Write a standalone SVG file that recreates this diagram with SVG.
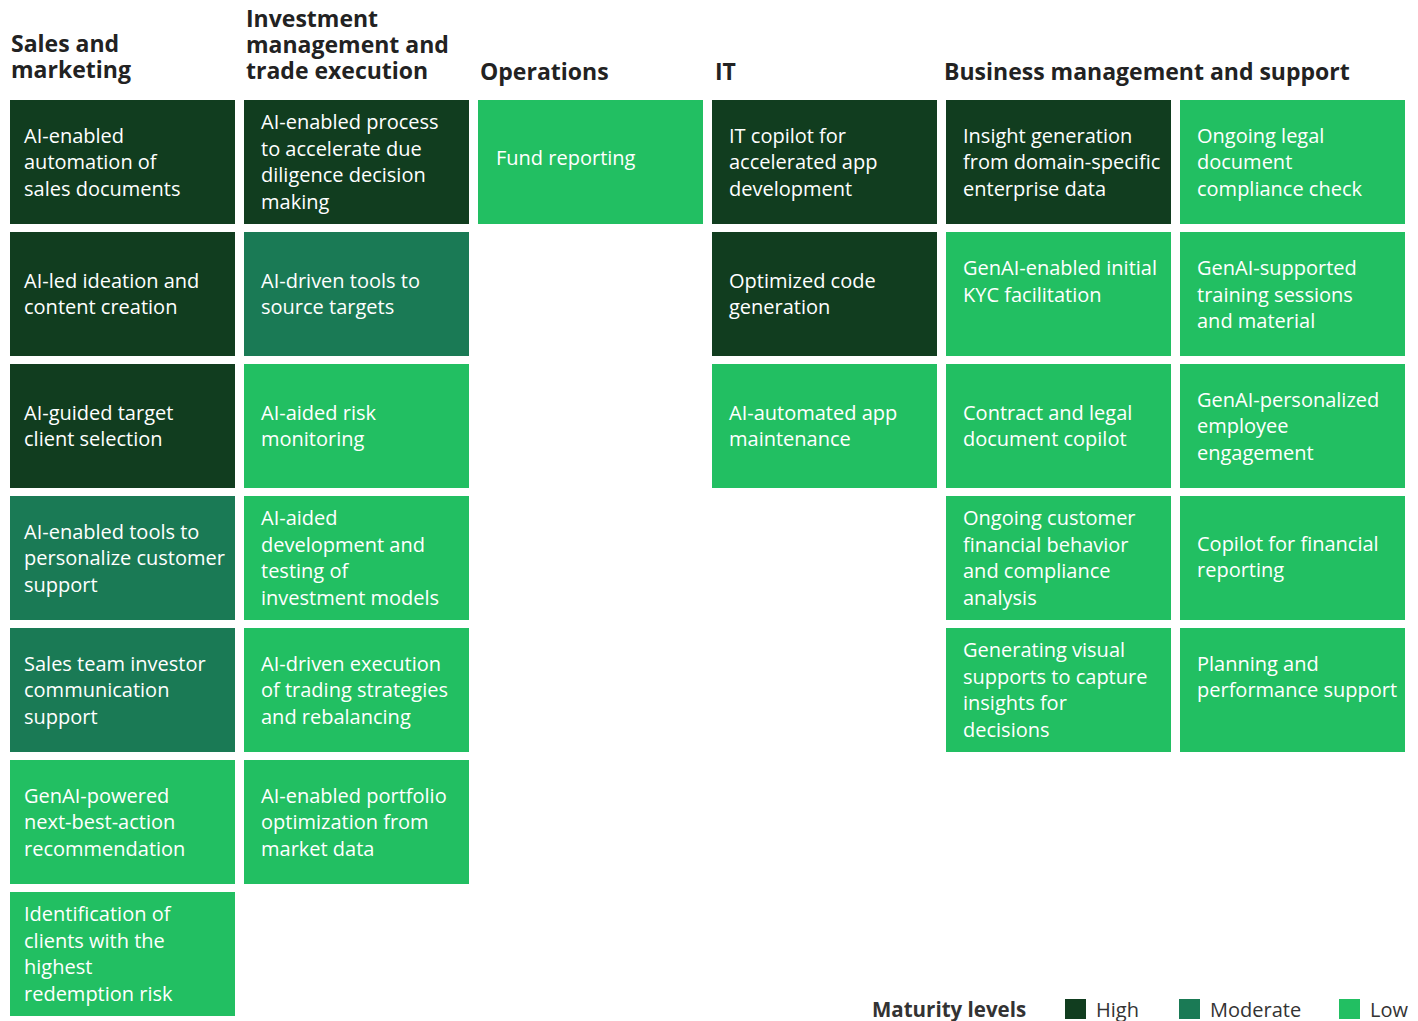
<svg xmlns="http://www.w3.org/2000/svg" width="1418" height="1021" viewBox="0 0 1418 1021">
<style>
.hi{fill:#113d1f}.mo{fill:#1a7a55}.lo{fill:#22bf62}
.t{font-family:"Open Sans","Noto Sans",sans-serif;font-size:20px;fill:#ffffff}
.h{font-family:"Open Sans","Noto Sans",sans-serif;font-size:23px;font-weight:700;fill:#222222}
.lg{font-family:"Open Sans","Noto Sans",sans-serif;font-size:20px;fill:#333333}
.lgb{font-family:"Open Sans","Noto Sans",sans-serif;font-size:20.5px;font-weight:700;fill:#333333}
</style>
<rect width="1418" height="1021" fill="#ffffff"/>
<g id="headers">
<text class="h" x="11" y="52">Sales and</text>
<text class="h" x="11" y="78">marketing</text>
<text class="h" x="246" y="27">Investment</text>
<text class="h" x="246" y="53">management and</text>
<text class="h" x="246" y="79">trade execution</text>
<text class="h" x="480" y="80">Operations</text>
<text class="h" x="715" y="80">IT</text>
<text class="h" x="944" y="80">Business management and support</text>
</g>
<g id="connectors"></g>
<!-- Column 1 -->
<g id="n-sales-1"><rect class="hi" x="10" y="100" width="225" height="124"/><text class="t" x="24" y="142.5">AI-enabled<tspan x="24" dy="26.5">automation of</tspan><tspan x="24" dy="26.5">sales documents</tspan></text></g>
<g id="n-sales-2"><rect class="hi" x="10" y="232" width="225" height="124"/><text class="t" x="24" y="287.75">AI-led ideation and<tspan x="24" dy="26.5">content creation</tspan></text></g>
<g id="n-sales-3"><rect class="hi" x="10" y="364" width="225" height="124"/><text class="t" x="24" y="419.75">AI-guided target<tspan x="24" dy="26.5">client selection</tspan></text></g>
<g id="n-sales-4"><rect class="mo" x="10" y="496" width="225" height="124"/><text class="t" x="24" y="538.5">AI-enabled tools to<tspan x="24" dy="26.5">personalize customer</tspan><tspan x="24" dy="26.5">support</tspan></text></g>
<g id="n-sales-5"><rect class="mo" x="10" y="628" width="225" height="124"/><text class="t" x="24" y="670.5">Sales team investor<tspan x="24" dy="26.5">communication</tspan><tspan x="24" dy="26.5">support</tspan></text></g>
<g id="n-sales-6"><rect class="lo" x="10" y="760" width="225" height="124"/><text class="t" x="24" y="802.5">GenAI-powered<tspan x="24" dy="26.5">next-best-action</tspan><tspan x="24" dy="26.5">recommendation</tspan></text></g>
<g id="n-sales-7"><rect class="lo" x="10" y="892" width="225" height="124"/><text class="t" x="24" y="921.25">Identification of<tspan x="24" dy="26.5">clients with the</tspan><tspan x="24" dy="26.5">highest</tspan><tspan x="24" dy="26.5">redemption risk</tspan></text></g>
<!-- Column 2 -->
<g id="n-inv-1"><rect class="hi" x="244" y="100" width="225" height="124"/><text class="t" x="261" y="129.25">AI-enabled process<tspan x="261" dy="26.5">to accelerate due</tspan><tspan x="261" dy="26.5">diligence decision</tspan><tspan x="261" dy="26.5">making</tspan></text></g>
<g id="n-inv-2"><rect class="mo" x="244" y="232" width="225" height="124"/><text class="t" x="261" y="287.75">AI-driven tools to<tspan x="261" dy="26.5">source targets</tspan></text></g>
<g id="n-inv-3"><rect class="lo" x="244" y="364" width="225" height="124"/><text class="t" x="261" y="419.75">AI-aided risk<tspan x="261" dy="26.5">monitoring</tspan></text></g>
<g id="n-inv-4"><rect class="lo" x="244" y="496" width="225" height="124"/><text class="t" x="261" y="525.25">AI-aided<tspan x="261" dy="26.5">development and</tspan><tspan x="261" dy="26.5">testing of</tspan><tspan x="261" dy="26.5">investment models</tspan></text></g>
<g id="n-inv-5"><rect class="lo" x="244" y="628" width="225" height="124"/><text class="t" x="261" y="670.5">AI-driven execution<tspan x="261" dy="26.5">of trading strategies</tspan><tspan x="261" dy="26.5">and rebalancing</tspan></text></g>
<g id="n-inv-6"><rect class="lo" x="244" y="760" width="225" height="124"/><text class="t" x="261" y="802.5">AI-enabled portfolio<tspan x="261" dy="26.5">optimization from</tspan><tspan x="261" dy="26.5">market data</tspan></text></g>
<!-- Column 3 -->
<g id="n-ops-1"><rect class="lo" x="478" y="100" width="225" height="124"/><text class="t" x="496" y="165">Fund reporting</text></g>
<!-- Column 4 -->
<g id="n-it-1"><rect class="hi" x="712" y="100" width="225" height="124"/><text class="t" x="729" y="142.5">IT copilot for<tspan x="729" dy="26.5">accelerated app</tspan><tspan x="729" dy="26.5">development</tspan></text></g>
<g id="n-it-2"><rect class="hi" x="712" y="232" width="225" height="124"/><text class="t" x="729" y="287.75">Optimized code<tspan x="729" dy="26.5">generation</tspan></text></g>
<g id="n-it-3"><rect class="lo" x="712" y="364" width="225" height="124"/><text class="t" x="729" y="419.75">AI-automated app<tspan x="729" dy="26.5">maintenance</tspan></text></g>
<!-- Column 5 -->
<g id="n-bms-1"><rect class="hi" x="946" y="100" width="225" height="124"/><text class="t" x="963" y="142.5">Insight generation<tspan x="963" dy="26.5">from domain-specific</tspan><tspan x="963" dy="26.5">enterprise data</tspan></text></g>
<g id="n-bms-2"><rect class="lo" x="946" y="232" width="225" height="124"/><text class="t" x="963" y="275">GenAI-enabled initial<tspan x="963" dy="26.5">KYC facilitation</tspan></text></g>
<g id="n-bms-3"><rect class="lo" x="946" y="364" width="225" height="124"/><text class="t" x="963" y="419.75">Contract and legal<tspan x="963" dy="26.5">document copilot</tspan></text></g>
<g id="n-bms-4"><rect class="lo" x="946" y="496" width="225" height="124"/><text class="t" x="963" y="525.25">Ongoing customer<tspan x="963" dy="26.5">financial behavior</tspan><tspan x="963" dy="26.5">and compliance</tspan><tspan x="963" dy="26.5">analysis</tspan></text></g>
<g id="n-bms-5"><rect class="lo" x="946" y="628" width="225" height="124"/><text class="t" x="963" y="657.25">Generating visual<tspan x="963" dy="26.5">supports to capture</tspan><tspan x="963" dy="26.5">insights for</tspan><tspan x="963" dy="26.5">decisions</tspan></text></g>
<!-- Column 6 -->
<g id="n-bms-6"><rect class="lo" x="1180" y="100" width="225" height="124"/><text class="t" x="1197" y="142.5">Ongoing legal<tspan x="1197" dy="26.5">document</tspan><tspan x="1197" dy="26.5">compliance check</tspan></text></g>
<g id="n-bms-7"><rect class="lo" x="1180" y="232" width="225" height="124"/><text class="t" x="1197" y="275">GenAI-supported<tspan x="1197" dy="26.5">training sessions</tspan><tspan x="1197" dy="26.5">and material</tspan></text></g>
<g id="n-bms-8"><rect class="lo" x="1180" y="364" width="225" height="124"/><text class="t" x="1197" y="406.5">GenAI-personalized<tspan x="1197" dy="26.5">employee</tspan><tspan x="1197" dy="26.5">engagement</tspan></text></g>
<g id="n-bms-9"><rect class="lo" x="1180" y="496" width="225" height="124"/><text class="t" x="1197" y="550.5">Copilot for financial<tspan x="1197" dy="26.5">reporting</tspan></text></g>
<g id="n-bms-10"><rect class="lo" x="1180" y="628" width="225" height="124"/><text class="t" x="1197" y="670.5">Planning and<tspan x="1197" dy="26.5">performance support</tspan></text></g>
<!-- Legend -->
<g id="legend">
<text class="lgb" x="872" y="1017">Maturity levels</text>
<rect class="hi" x="1065" y="999" width="21" height="20"/>
<text class="lg" x="1096" y="1017">High</text>
<rect class="mo" x="1179" y="999" width="21" height="20"/>
<text class="lg" x="1210" y="1017">Moderate</text>
<rect class="lo" x="1339" y="999" width="21" height="20"/>
<text class="lg" x="1370" y="1017">Low</text>
</g>
</svg>
